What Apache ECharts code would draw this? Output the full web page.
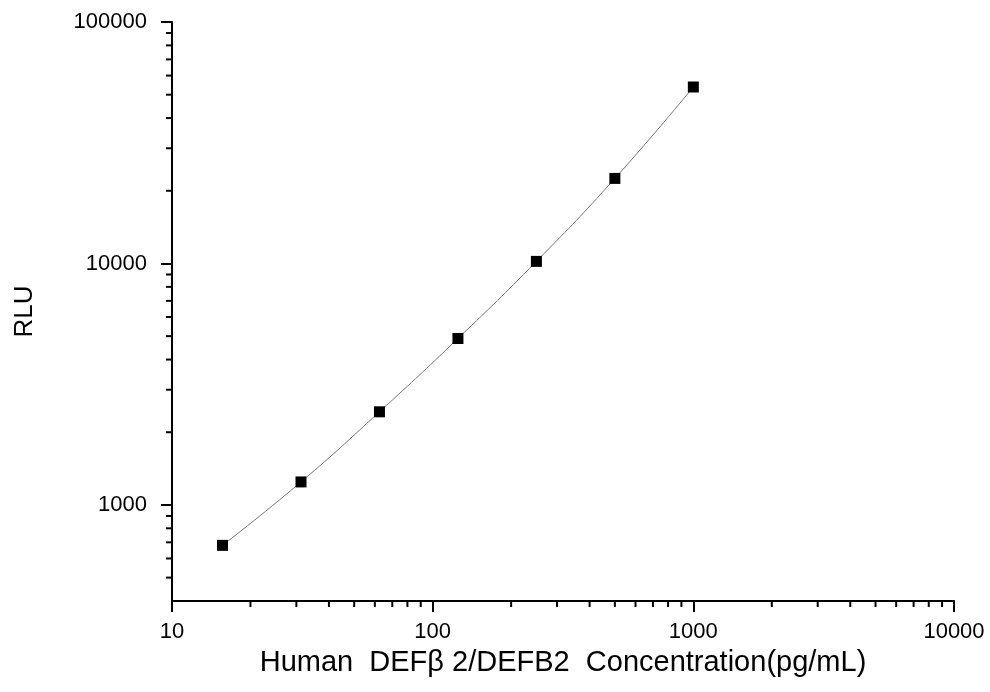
<!DOCTYPE html>
<html><head><meta charset="utf-8">
<script src="https://cdn.jsdelivr.net/npm/echarts@6/dist/echarts.min.js"></script>
<style>html,body{margin:0;padding:0;background:#fff}#c{width:990px;height:692px}</style>
</head><body><div id="c"></div>
<script>
const concentrations = [15.625, 31.25, 62.5, 125, 250, 500, 1000];
const rluValues = [680, 1245, 2430, 4890, 10200, 22500, 53800];
const xMinorTicks = [20,30,40,50,60,70,80,90,200,300,400,500,600,700,800,900,2000,3000,4000,5000,6000,7000,8000,9000];
const yMinorTicks = [500,600,700,800,900,2000,3000,4000,5000,6000,7000,8000,9000,20000,30000,40000,50000,60000,70000,80000,90000];
const xAxisMin = 10, xAxisMax = 10000, yAxisMin = 400, yAxisMax = 100000;

const chart = echarts.init(document.getElementById('c'));
const font = 'Liberation Sans, Arial, sans-serif';
const fmt = v => String(Math.round(v));
chart.setOption({
  animation: false,
  grid: {left: 172, right: 36, top: 22, bottom: 91},
  xAxis: {
    type: 'log', logBase: 10, min: xAxisMin, max: xAxisMax,
    name: 'Human  DEFβ 2/DEFB2  Concentration(pg/mL)',
    nameLocation: 'middle', nameGap: 47,
    nameTextStyle: {fontFamily: font, fontSize: 29, color: '#000'},
    axisLine: {lineStyle: {color: '#000', width: 2}},
    axisTick: {length: 11, lineStyle: {color: '#000', width: 2}},
    axisLabel: {fontFamily: font, fontSize: 22, color: '#000', margin: 20, formatter: fmt},
    splitLine: {show: false}
  },
  yAxis: {
    type: 'log', logBase: 10, min: yAxisMin, max: yAxisMax,
    name: 'RLU', nameLocation: 'middle', nameGap: 134, nameRotate: 90,
    nameTextStyle: {fontFamily: font, fontSize: 26, color: '#000'},
    axisLine: {lineStyle: {color: '#000', width: 2}},
    axisTick: {length: 11, lineStyle: {color: '#000', width: 2},
      customValues: [1000, 10000, 100000]},
    axisLabel: {fontFamily: font, fontSize: 22, color: '#000', margin: 25, formatter: fmt,
      customValues: [1000, 10000, 100000]},
    splitLine: {show: false}
  },
  series: [
    {
      type: 'line', data: concentrations.map((c, i) => [c, rluValues[i]]),
      smooth: true, symbol: 'rect', symbolSize: 11,
      itemStyle: {color: '#000'},
      lineStyle: {color: '#777', width: 1}
    },
    {
      type: 'custom', clip: false, silent: true,
      data: xMinorTicks.map(v => [v, yAxisMin]),
      renderItem: (params, api) => {
        const p = api.coord([api.value(0), api.value(1)]);
        return {type: 'line', shape: {x1: p[0], y1: p[1], x2: p[0], y2: p[1] + 6},
          style: {stroke: '#000', lineWidth: 2}};
      }
    },
    {
      type: 'custom', clip: false, silent: true,
      data: yMinorTicks.map(v => [xAxisMin, v]),
      renderItem: (params, api) => {
        const p = api.coord([api.value(0), api.value(1)]);
        return {type: 'line', shape: {x1: p[0], y1: p[1], x2: p[0] - 6, y2: p[1]},
          style: {stroke: '#000', lineWidth: 2}};
      }
    }
  ]
});
</script></body></html>
